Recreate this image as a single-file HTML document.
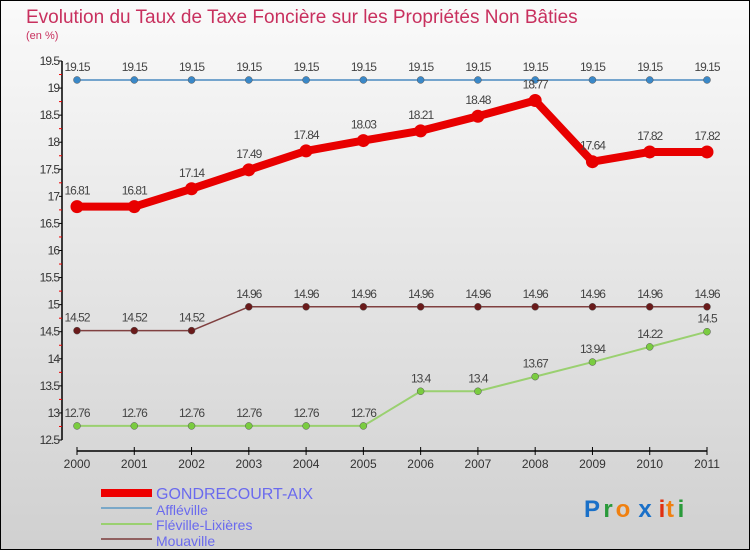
<!DOCTYPE html>
<html><head><meta charset="utf-8"><style>
body{margin:0}
#c{width:748px;height:548px;border:1px solid #000;background:linear-gradient(#fafafa,#d0d0d0);position:relative;font-family:"Liberation Sans",sans-serif}
</style></head><body>
<div id="c">
<svg id="s" width="748" height="548" style="position:absolute;left:0;top:0">
<text x="25" y="22" font-size="19" fill="#c8305e">Evolution du Taux de Taxe Foncière sur les Propriétés Non Bâties</text>
<text x="25" y="38" font-size="11" fill="#c8305e">(en %)</text>
<g id="g"></g>
<g>
<rect x="100" y="488" width="51" height="8" fill="#e00"/>
<line x1="100" y1="507" x2="151" y2="507" stroke="#7aa8c8" stroke-width="2"/>
<line x1="100" y1="523" x2="151" y2="523" stroke="#9ad070" stroke-width="2"/>
<line x1="100" y1="538" x2="151" y2="538" stroke="#906060" stroke-width="2"/>
<text x="155" y="498" font-size="16" fill="#6a6aee">GONDRECOURT-AIX</text>
<text x="155" y="514" font-size="14" fill="#6a6aee">Affléville</text>
<text x="155" y="529" font-size="14" fill="#6a6aee">Fléville-Lixières</text>
<text x="155" y="545" font-size="14" fill="#6a6aee">Mouaville</text>
</g>
<g font-size="24" font-weight="bold" text-anchor="middle">
<text x="591" y="516" fill="#1a70c8">P</text><text x="607" y="516" fill="#2a9a3a">r</text><text x="622" y="516" fill="#f08010">o</text><text x="644" y="516" fill="#1a70c8">x</text><text x="661" y="516" fill="#e03010">i</text><text x="669" y="516" fill="#f08010">t</text><text x="680" y="516" fill="#2a9a3a">i</text>
</g>
</svg>
</div>
<script>
const years=["2000","2001","2002","2003","2004","2005","2006","2007","2008","2009","2010","2011"];
const gondrecourt=[16.81,16.81,17.14,17.49,17.84,18.03,18.21,18.48,18.77,17.64,17.82,17.82];
const affleville=[19.15,19.15,19.15,19.15,19.15,19.15,19.15,19.15,19.15,19.15,19.15,19.15];
const fleville=[12.76,12.76,12.76,12.76,12.76,12.76,13.4,13.4,13.67,13.94,14.22,14.5];
const mouaville=[14.52,14.52,14.52,14.96,14.96,14.96,14.96,14.96,14.96,14.96,14.96,14.96];
const yTicks=[12.5,13,13.5,14,14.5,15,15.5,16,16.5,17,17.5,18,18.5,19,19.5];
const NS="http://www.w3.org/2000/svg";
const g=document.getElementById('g');
const X=i=>76+i*(706-76)/11;
const Y=v=>439-(v-12.5)*(379/7);
function el(t,a){const e=document.createElementNS(NS,t);for(const k in a)e.setAttribute(k,a[k]);g.appendChild(e);return e;}
let ax=el('line',{x1:61,y1:60,x2:61,y2:439,stroke:'#000','stroke-width':1.5});


let xa=el('line',{x1:76,y1:450,x2:706,y2:450,stroke:'#000','stroke-width':1.5});


yTicks.forEach(v=>{
 el('line',{x1:58,y1:Y(v),x2:61,y2:Y(v),stroke:'#000'});
 if(v<19.5){el('line',{x1:58,y1:Y(v+0.25),x2:61,y2:Y(v+0.25),stroke:'#e00'});}
 const t=el('text',{x:58,y:Y(v)+4,'font-size':12,'text-anchor':'end',fill:'#333','letter-spacing':'-1'});
 t.textContent=String(v);
 
 
});
years.forEach((y,i)=>{
 el('line',{x1:X(i),y1:446,x2:X(i),y2:454,stroke:'#000'});
 const t=el('text',{x:X(i),y:467,'font-size':12,'text-anchor':'middle',fill:'#333'});
 t.textContent=y;
 
 
});
function series(name,vals,color,lw,r,dot,labOff){
 const p=el('polyline',{points:vals.map((v,i)=>X(i)+','+Y(v)).join(' '),fill:'none',stroke:color,'stroke-width':lw,'stroke-linejoin':'round'});
 
 
 vals.forEach((v,i)=>{
  const c=el('circle',{cx:X(i),cy:Y(v),r:r,fill:dot,stroke:lw>3?'none':'#555','stroke-width':0.5});
  
  
  const t=el('text',{x:X(i),y:Y(v)-labOff,'font-size':12,'text-anchor':'middle',fill:'#444','letter-spacing':'-1'});
  t.textContent=String(v);
  
  
 });
}
series('affleville',affleville,'#4a8ac0',1.5,3.5,'#3a88c8',9);
series('mouaville',mouaville,'#804040',1.5,3.5,'#6a1a1a',9);
series('fleville',fleville,'#9ad070',2,3.5,'#7acc40',9);
series('gondrecourt',gondrecourt,'#e80000',8,6.5,'#e80000',12);
</script>
</body></html>
